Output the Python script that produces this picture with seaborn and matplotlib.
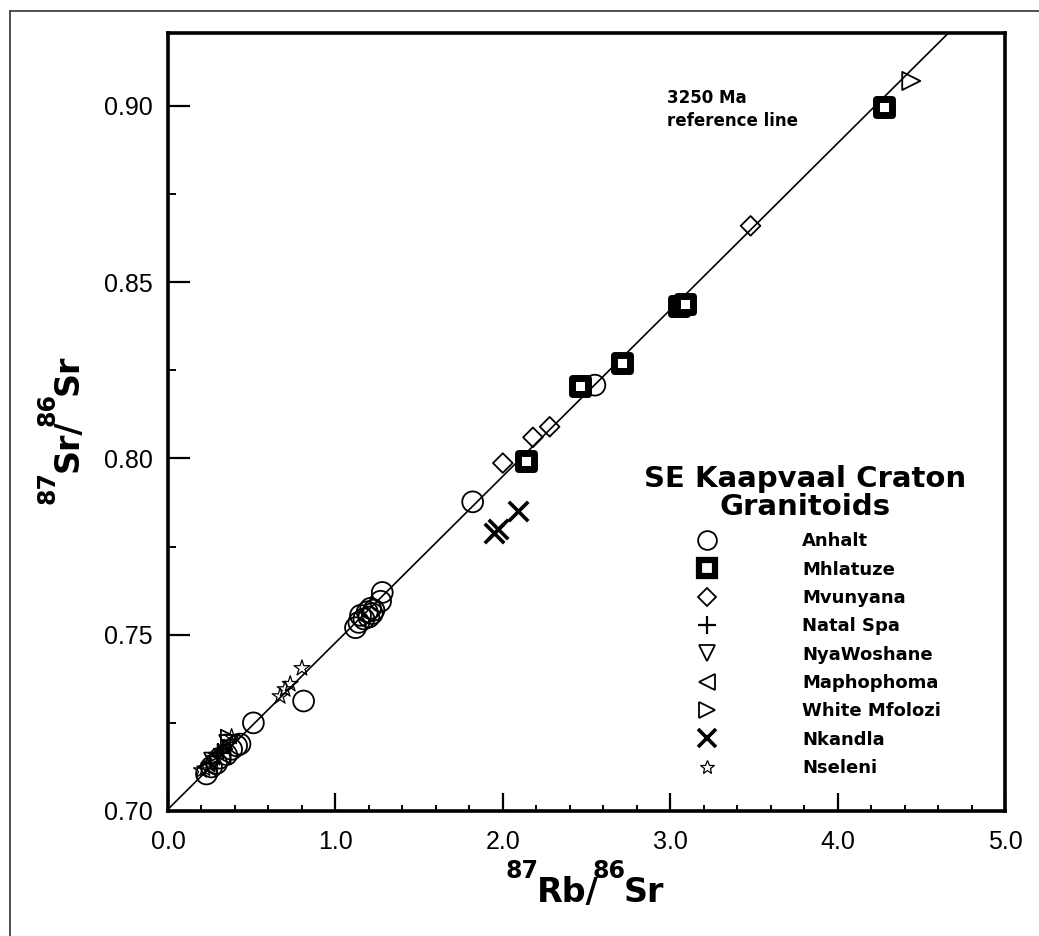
import numpy as np
import pandas as pd
import matplotlib
matplotlib.use("Agg")
import matplotlib.pyplot as plt
import seaborn as sns
from matplotlib.lines import Line2D
from matplotlib.ticker import MultipleLocator, FormatStrFormatter

# ---------------- data ----------------
anhalt_x = [0.23, 0.26, 0.29, 0.31, 0.35, 0.38, 0.41, 0.43, 0.51, 0.81,
            1.12, 1.14, 1.15, 1.17, 1.19, 1.20, 1.21, 1.22, 1.23, 1.27, 1.28,
            1.82, 2.55]
anhalt_y = [0.7105, 0.7125, 0.7135, 0.7150, 0.7160, 0.7175, 0.7185, 0.7190, 0.7250, 0.7312,
            0.7520, 0.7535, 0.7555, 0.7545, 0.7565, 0.7550, 0.7575, 0.7560, 0.7570, 0.7595, 0.7620,
            0.7877, 0.8208]
mhlatuze_x = [2.14, 2.46, 2.71, 3.05, 3.09, 4.28]
mhlatuze_y = [0.7993, 0.8206, 0.8270, 0.8433, 0.8437, 0.8997]
mvunyana_x = [2.00, 2.18, 2.28, 3.48]
mvunyana_y = [0.7987, 0.8060, 0.8090, 0.8660]
natalspa_x = [0.30, 0.33]
natalspa_y = [0.7165, 0.7175]
nyawoshane_x = [0.27, 0.36]
nyawoshane_y = [0.7140, 0.7190]
maphophoma_x = [0.24, 0.32]
maphophoma_y = [0.7125, 0.7160]
whitemfolozi_x = [0.37, 4.44]
whitemfolozi_y = [0.7205, 0.9071]
nkandla_x = [1.95, 1.97, 2.09]
nkandla_y = [0.7790, 0.7800, 0.7852]
nseleni_x = [0.20, 0.22, 0.25, 0.28, 0.34, 0.38, 0.67, 0.70, 0.73, 0.80]
nseleni_y = [0.7115, 0.7120, 0.7130, 0.7150, 0.7180, 0.7210, 0.7325, 0.7345, 0.7360, 0.7405]

unit_names = ["Anhalt", "Mhlatuze", "Mvunyana", "Natal Spa", "NyaWoshane",
              "Maphophoma", "White Mfolozi", "Nkandla", "Nseleni"]
unit_x = [anhalt_x, mhlatuze_x, mvunyana_x, natalspa_x, nyawoshane_x,
          maphophoma_x, whitemfolozi_x, nkandla_x, nseleni_x]
unit_y = [anhalt_y, mhlatuze_y, mvunyana_y, natalspa_y, nyawoshane_y,
          maphophoma_y, whitemfolozi_y, nkandla_y, nseleni_y]

# reference isochron
ref_age_ma = 3250
decay_const = 1.42e-11
ref_initial = 0.7005
legend_title = "SE Kaapvaal Craton\nGranitoids"
ref_label = "3250 Ma\nreference line"
xlabel_parts = [("87", True), ("Rb/", False), ("86", True), ("Sr", False)]
ylabel_parts = [("87", True), ("Sr/", False), ("86", True), ("Sr", False)]

x_ticks = [0.0, 1.0, 2.0, 3.0, 4.0, 5.0]
y_ticks = [0.70, 0.75, 0.80, 0.85, 0.90]

df = pd.concat([pd.DataFrame({"x": xs, "y": ys, "unit": n})
                for n, xs, ys in zip(unit_names, unit_x, unit_y)], ignore_index=True)

# ---------------- style ----------------
sns.set_theme(style="ticks")
plt.rcParams["font.family"] = ["Liberation Sans", "DejaVu Sans"]
for k in ("text.color", "axes.labelcolor", "xtick.color", "ytick.color", "axes.edgecolor"):
    plt.rcParams[k] = "black"

W, H = 1039, 936
fig = plt.figure(figsize=(W / 100, H / 100), dpi=100)
fig.patch.set_facecolor("white")
ax = fig.add_axes([168 / W, 1 - 811 / H, (1005 - 168) / W, (811 - 33) / H])
ax.set_facecolor("white")

marker_styles = {
    "Anhalt":        dict(marker="o", ms=15, mfc="none", mew=1.3),
    "Mhlatuze":      dict(marker="s", ms=11, mfc="white", mew=5.0),
    "Mvunyana":      dict(marker="D", ms=10, mfc="none", mew=1.3),
    "Natal Spa":     dict(marker="+", ms=15, mfc="none", mew=1.6),
    "NyaWoshane":    dict(marker="v", ms=13, mfc="none", mew=1.3),
    "Maphophoma":    dict(marker="<", ms=13, mfc="none", mew=1.3),
    "White Mfolozi": dict(marker=">", ms=13, mfc="none", mew=1.3),
    "Nkandla":       dict(marker="x", ms=14, mfc="none", mew=2.6),
    "Nseleni":       dict(marker="*", ms=12, mfc="none", mew=0.9),
}

# reference line
slope = np.exp(decay_const * ref_age_ma * 1e6) - 1
line_x = np.array([0.0, 5.0])
sns.lineplot(x=line_x, y=ref_initial + slope * line_x, ax=ax, color="black",
             linewidth=1.2, zorder=2)

draw_order = ["Anhalt", "Mvunyana", "Natal Spa", "NyaWoshane", "Maphophoma",
              "White Mfolozi", "Nseleni", "Nkandla", "Mhlatuze"]
for i, name in enumerate(draw_order):
    st = marker_styles[name]
    sub = df[df["unit"] == name]
    kw = dict(marker=st["marker"], s=st["ms"] ** 2, linewidth=st["mew"], zorder=3 + i)
    if st["marker"] in ("+", "x"):
        sns.scatterplot(data=sub, x="x", y="y", ax=ax, color="black", **kw)
    else:
        sns.scatterplot(data=sub, x="x", y="y", ax=ax, color="black",
                        facecolor=st["mfc"], edgecolor="black", **kw)

ax.set_xlim(0, 5)
ax.set_ylim(0.70, 0.9207)
ax.set_xticks(x_ticks)
ax.set_yticks(y_ticks)
ax.xaxis.set_minor_locator(MultipleLocator(0.2))
ax.yaxis.set_minor_locator(MultipleLocator(0.025))
ax.xaxis.set_major_formatter(FormatStrFormatter("%.1f"))
ax.yaxis.set_major_formatter(FormatStrFormatter("%.2f"))
ax.tick_params(axis="both", which="both", direction="in", colors="black",
               top=False, right=False, labelsize=18)
ax.tick_params(axis="x", which="major", length=13, width=1.6, pad=14)
ax.tick_params(axis="x", which="minor", length=4.5, width=1.4)
ax.tick_params(axis="y", which="major", length=16, width=1.6, pad=11)
ax.tick_params(axis="y", which="minor", length=6, width=1.4)
for sp in ax.spines.values():
    sp.set_visible(True)
    sp.set_linewidth(2.6)
    sp.set_color("black")
ax.set_xlabel("")
ax.set_ylabel("")

# axis labels with raised isotope numbers
renderer = fig.canvas.get_renderer()
BIG, SMALL = 24, 17


def compose(parts, cx, cy, vertical):
    """cx, cy in display pixels (origin bottom-left); baseline point of label centre."""
    sizes = [SMALL if sup else BIG for _, sup in parts]
    widths = []
    for (s, sup), fs in zip(parts, sizes):
        t = fig.text(0, 0, s, fontsize=fs, fontweight="bold", family="DejaVu Sans")
        w = t.get_window_extent(renderer).width
        w -= 6 if s.endswith("/") else 2
        widths.append(w)
        t.remove()
    pos = -sum(widths) / 2
    rise_px = 0.72 * BIG * 100 / 72
    for (s, sup), fs, w in zip(parts, sizes, widths):
        rise = rise_px if sup else 0.0
        if vertical:
            X, Y, rot = cx - rise, cy + pos, 90
        else:
            X, Y, rot = cx + pos, cy + rise, 0
        fig.text(X / W, Y / H, s, fontsize=fs, fontweight="bold", family="DejaVu Sans",
                 ha="left", va="baseline", rotation=rot, rotation_mode="anchor")
        pos += w


compose(xlabel_parts, 584, H - 902, vertical=False)
compose(ylabel_parts, 78, H - 430, vertical=True)

ax.text(2.98, 0.8990, ref_label, fontsize=12, fontweight="bold",
        family="DejaVu Sans", ha="left", va="center", linespacing=1.4)

fig.text(805 / W, 1 - 493 / H, legend_title, ha="center", va="center", ma="center",
         fontsize=21, fontweight="bold", family="DejaVu Sans", linespacing=1.0)

handles = [Line2D([], [], linestyle="none", color="black", marker=marker_styles[n]["marker"],
                  markersize=marker_styles[n]["ms"] * (0.9 if n != "Mhlatuze" else 1.0),
                  markerfacecolor=marker_styles[n]["mfc"], markeredgecolor="black",
                  markeredgewidth=marker_styles[n]["mew"] * (1.0 if n != "Mhlatuze" else 0.9))
           for n in unit_names]
fs = 13
leg = ax.legend(handles, unit_names, loc="upper left",
                bbox_to_anchor=(692.6 / W, 1 - 532.5 / H), bbox_transform=fig.transFigure,
                frameon=False, borderpad=0, borderaxespad=0, handlelength=1.6,
                handletextpad=4.46, labelspacing=0.57,
                prop=dict(family="DejaVu Sans", weight="bold", size=fs))
for t in leg.get_texts():
    t.set_color("black")

# outer frame of the figure
fig.add_artist(Line2D([10 / W, 10 / W], [0, 1 - 11 / H], transform=fig.transFigure,
                      color="#333333", linewidth=1.2))
fig.add_artist(Line2D([10 / W, 1], [1 - 11 / H, 1 - 11 / H], transform=fig.transFigure,
                      color="#333333", linewidth=1.2))

fig.savefig("out.png", dpi=100)
